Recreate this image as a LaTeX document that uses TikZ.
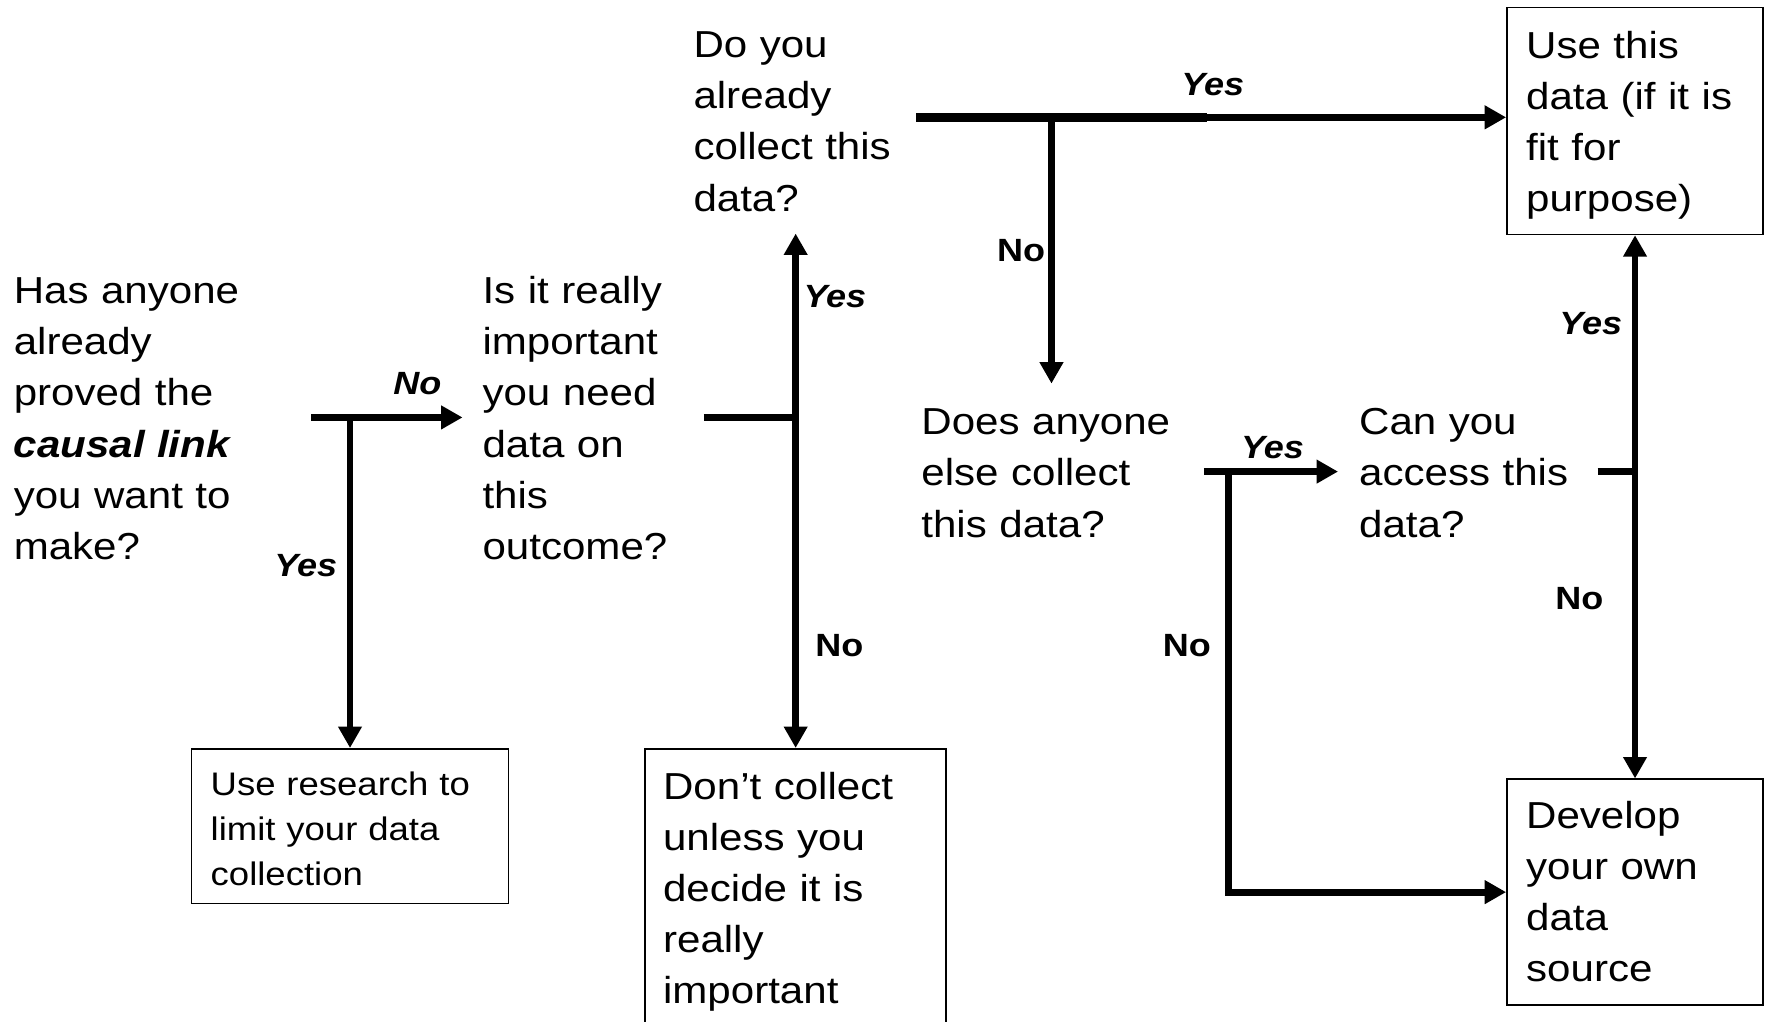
\documentclass[tikz,border=0pt]{standalone}
\usepackage{fontspec}
\setmainfont{Liberation Sans}[FakeStretch=1.12]
\usetikzlibrary{arrows.meta}
\begin{document}
\begin{tikzpicture}[x=1pt,y=-1pt,
  mainq/.style={anchor=north west, inner sep=0pt, align=left, text width=300pt,
    font=\fontsize{33.3}{45.3}\selectfont},
  boxm/.style={draw, line width=1.5pt, anchor=north west, inner ysep=0pt, inner xsep=17pt,
    align=left, font=\fontsize{33.3}{45.3}\selectfont},
  boxs/.style={boxm, font=\fontsize{28.9}{40}\selectfont},
  labi/.style={inner sep=0pt, font=\fontsize{28.5}{30}\selectfont\bfseries\itshape},
  labn/.style={inner sep=0pt, font=\fontsize{28.5}{30}\selectfont\bfseries},
  conn/.style={line width=6pt},
  arr/.style={line width=6pt, -{Triangle[length=19pt,width=20pt]}},
  ]
\path[fill=white,use as bounding box] (0,0) rectangle (1568,905);

% questions
\node[mainq] (q1) at (12,237.3) {\strut Has anyone\\already\\proved the\\\textbf{\textit{causal link}}\\you want to\\make?\strut};
\node[mainq] (q2) at (427.5,237.3) {\strut Is it really\\important\\you need\\data on\\this\\outcome?\strut};
\node[mainq] (q3) at (614.5,19.3) {\strut Do you\\already\\collect this\\data?\strut};
\node[mainq] (q4) at (816.5,353.5) {\strut Does anyone\\else collect\\this data?\strut};
\node[mainq] (q5) at (1204.5,353.5) {\strut Can you\\access this\\data?\strut};

% boxes
\node[boxm, text width=193pt, minimum height=201pt] (r1) at (1335,6)
  {\rule{0pt}{38.5pt}Use this\\data (if it is\\fit for\\purpose)\strut};
\node[boxm, text width=193pt, minimum height=200pt] (r2) at (1335,690)
  {\rule{0pt}{36.5pt}Develop\\your own\\data\\source\strut};
\node[boxs, text width=247pt, minimum height=137pt] (b1) at (169,663)
  {\rule{0pt}{37pt}Use research to\\limit your data\\collection\strut};
\node[boxm, text width=235pt, minimum height=252pt, inner xsep=16pt] (b2) at (571,663)
  {\strut Don’t collect\\unless you\\decide it is\\really\\important\strut};

% connector A
\coordinate (aS) at (276,370);
\coordinate (aT) at (410,370);
\coordinate (jA) at (b1.north |- aS);
\draw[arr] (aS) -- (aT);
\draw[arr] (jA) -- (b1.north);

% connector B
\coordinate (bS) at (624,370);
\coordinate (jB) at (b2.north |- bS);
\coordinate (bT) at (b2.north |- 0,207);
\draw[conn] (bS) -- (jB);
\draw[arr] (jB) -- (bT);
\draw[arr] (jB) -- (b2.north);

% connector C
\coordinate (cS) at (812,104);
\coordinate (cM) at (1070,104);
\coordinate (cT) at (r1.west |- cS);
\coordinate (jC) at (932,104);
\coordinate (cD) at (932,340);
\draw[line width=8.5pt] (cS) -- (cM);
\draw[arr] (cS) -- (cT);
\draw[arr] (jC) -- (cD);

% connector D
\coordinate (dS) at (1067,418);
\coordinate (dT) at (1186,418);
\coordinate (jD) at (1089,418);
\draw[arr] (dS) -- (dT);
\draw[arr] (jD) |- (r2.west);

% connector E
\coordinate (eS) at (1416,418);
\coordinate (jE) at (r1.south |- eS);
\draw[conn] (eS) -- (jE);
\draw[arr] (jE) -- (r1.south);
\draw[arr] (jE) -- (r2.north);

% labels
\node[labi] (lA1) at (370,340) {No};
\node[labi] (lA2) at (271,501) {Yes};
\node[labi] (lB1) at (740,263) {Yes};
\node[labn] (lB2) at (744,572) {No};
\node[labi] (lC1) at (1075,75) {Yes};
\node[labn] (lC2) at (905,222) {No};
\node[labi] (lD1) at (1128,397) {Yes};
\node[labn] (lD2) at (1052,572) {No};
\node[labi] (lE1) at (1410,287) {Yes};
\node[labn] (lE2) at (1400,531) {No};
\end{tikzpicture}
\end{document}
